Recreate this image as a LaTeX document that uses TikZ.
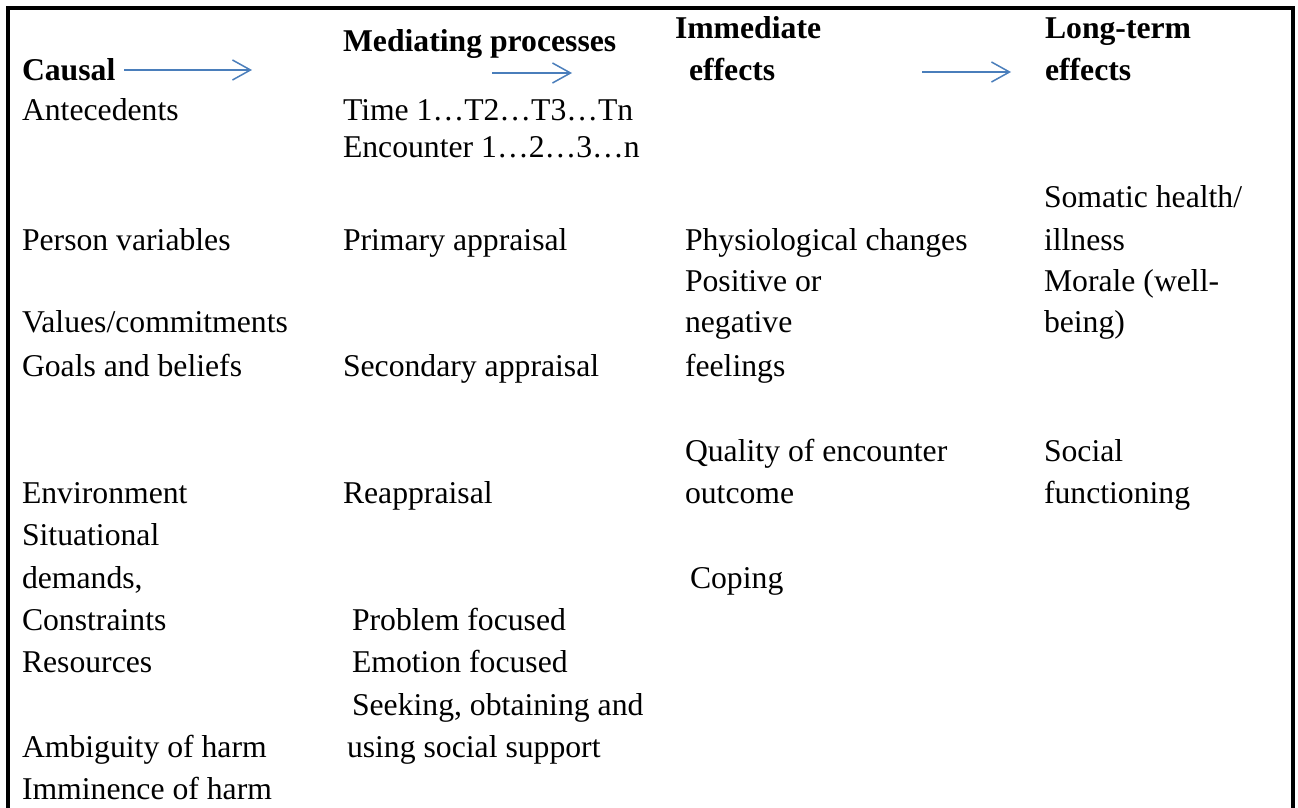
\documentclass[tikz,border=0pt]{standalone}
\usepackage{fontspec}
\setmainfont{Liberation Serif}
\usetikzlibrary{arrows.meta}
\definecolor{flowblue}{HTML}{4A7EBB}
\begin{document}
\begin{tikzpicture}[x=0.5pt,y=-0.5pt,
  txt/.style={anchor=base west,inner sep=0pt,outer sep=0pt,font=\fontsize{15.85}{18}\selectfont},
  head/.style={txt,font=\fontsize{15.85}{18}\selectfont\bfseries},
  flow/.style={draw=flowblue,line width=0.75pt,-{Straight Barb[length=9pt,width=10pt,line width=0.75pt]}},
  frame/.style={draw=black,line width=1.6pt}]
\useasboundingbox (0,0) rectangle (1298,808);

% open frame: top, left and right sides
\draw[frame] (8,808) -- (8,8) -- (1293,8) -- (1293,808);

% column headings
\node[head] (hcausal) at (22,81) {Causal};
\node[head] (hmed) at (343,52) {Mediating processes};
\node[head] (himm1) at (675,39) {Immediate};
\node[head] (himm2) at (689,81) {effects};
\node[head] (hlong1) at (1045,39) {Long-term};
\node[head] (hlong2) at (1045,81) {effects};

% arrows between headings
\coordinate (a1s) at (124,70);  \coordinate (a1e) at (252,70);
\coordinate (a2s) at (492,73);  \coordinate (a2e) at (572,73);
\coordinate (a3s) at (922,72);  \coordinate (a3e) at (1011,72);
\draw[flow] (a1s) -- (a1e);
\draw[flow] (a2s) -- (a2e);
\draw[flow] (a3s) -- (a3e);

% causal antecedents
\node[txt] (c1) at (22,121) {Antecedents};
\node[txt] (c2) at (22,250) {Person variables};
\node[txt] (c3) at (22,333) {Values/commitments};
\node[txt] (c4) at (22,376) {Goals and beliefs};
\node[txt] (c5) at (22,503) {Environment};
\node[txt] (c6) at (22,545) {Situational};
\node[txt] (c7) at (22,588) {demands,};
\node[txt] (c8) at (22,630) {Constraints};
\node[txt] (c9) at (22,672) {Resources};
\node[txt] (c10) at (22,757) {Ambiguity of harm};
\node[txt] (c11) at (22,799) {Imminence of harm};

% mediating processes
\node[txt] (m1) at (343,121) {Time 1…T2…T3…Tn};
\node[txt] (m2) at (343,158) {Encounter 1…2…3…n};
\node[txt] (m3) at (343,250) {Primary appraisal};
\node[txt] (m4) at (343,376) {Secondary appraisal};
\node[txt] (m5) at (343,503) {Reappraisal};
\node[txt] (m6) at (352,630) {Problem focused};
\node[txt] (m7) at (352,672) {Emotion focused};
\node[txt] (m8) at (352,715) {Seeking, obtaining and};
\node[txt] (m9) at (347,757) {using social support};

% immediate effects
\node[txt] (i1) at (685,250) {Physiological changes};
\node[txt] (i2) at (685,292) {Positive or};
\node[txt] (i3) at (685,333) {negative};
\node[txt] (i4) at (685,376) {feelings};
\node[txt] (i5) at (685,461) {Quality of encounter};
\node[txt] (i6) at (685,503) {outcome};
\node[txt] (i7) at (690,588) {Coping};

% long-term effects
\node[txt] (l1) at (1044,208) {Somatic health/};
\node[txt] (l2) at (1044,250) {illness};
\node[txt] (l3) at (1044,292) {Morale (well-};
\node[txt] (l4) at (1044,333) {being)};
\node[txt] (l5) at (1044,461) {Social};
\node[txt] (l6) at (1044,503) {functioning};
\end{tikzpicture}
\end{document}
